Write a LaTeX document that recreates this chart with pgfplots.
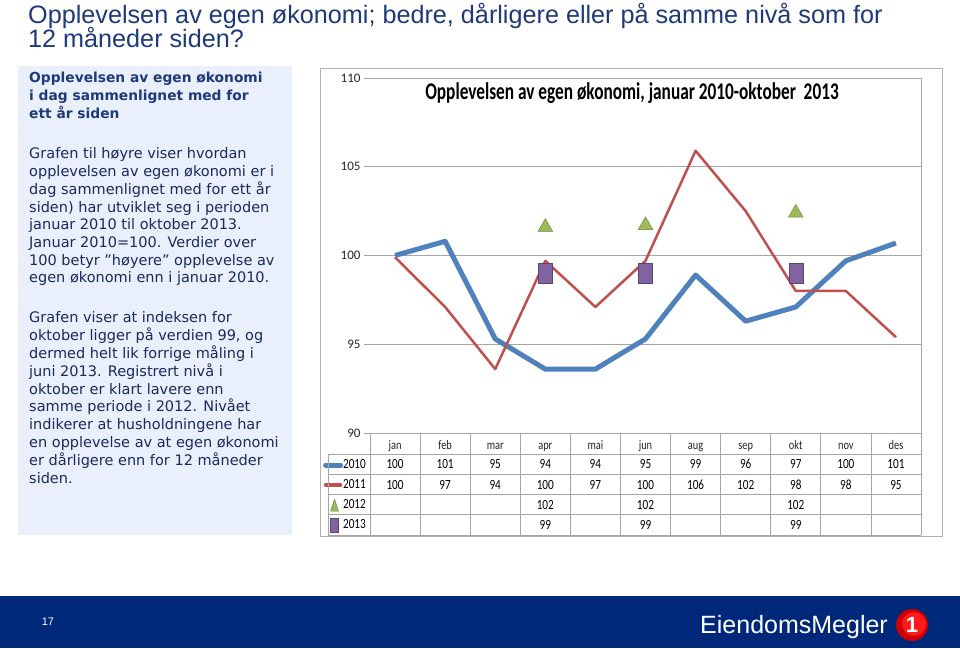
\documentclass[border=0pt]{standalone}
\usepackage{fontspec}
\setmainfont{DejaVu Sans}
\newfontfamily\carlito{Carlito}
\newfontfamily\libsans{Liberation Sans}
\usepackage{pgfplots}
\pgfplotsset{compat=1.18}
\definecolor{navy}{HTML}{1F3A78}
\definecolor{textblue}{HTML}{1B2A5C}
\definecolor{boxbg}{HTML}{E9EFFB}
\definecolor{footbg}{HTML}{00287A}
\definecolor{s2010}{HTML}{4F81BD}
\definecolor{s2011}{HTML}{C0504D}
\definecolor{s2012}{HTML}{9BBB59}
\definecolor{s2013}{HTML}{8064A2}
\definecolor{gridgray}{HTML}{A6A6A6}
\newcommand\cn[1]{\scalebox{0.8}[1]{#1}}
\begin{document}
\begin{tikzpicture}[x=1pt,y=1pt]
\fill[white] (0,0) rectangle (960,648);
\path[use as bounding box] (0,0) rectangle (960,648);

% slide title
\node[anchor=base west, inner sep=0, text=navy, font=\libsans\fontsize{25.2}{25}\selectfont] at (28,624)
  {Opplevelsen av egen økonomi; bedre, dårligere eller på samme nivå som for};
\node[anchor=base west, inner sep=0, text=navy, font=\libsans\fontsize{25.2}{25}\selectfont] at (28,600)
  {12 måneder siden?};

% left text box
\fill[boxbg] (18,113) rectangle (292,582);
\foreach \t [count=\i] in {Opplevelsen av egen økonomi, i dag sammenlignet med for, ett år siden}
  \node[anchor=base west, inner sep=0, text=navy, font=\bfseries\fontsize{13.8}{13}\selectfont] at (29,565-18*\i+18) {\t};
\foreach \t [count=\i] in {Grafen til høyre viser hvordan, opplevelsen av egen økonomi er i,
  dag sammenlignet med for ett år, siden) har utviklet seg i perioden, januar 2010 til oktober 2013.,
  Januar 2010=100. Verdier over, 100 betyr ”høyere” opplevelse av, egen økonomi enn i januar 2010.}
  \node[anchor=base west, inner sep=0, text=textblue, font=\fontsize{14.5}{13}\selectfont] at (29,489-17.7*\i+17.7) {\t};
\foreach \t [count=\i] in {Grafen viser at indeksen for, {oktober ligger på verdien 99, og},
  dermed helt lik forrige måling i, juni 2013. Registrert nivå i, oktober er klart lavere enn,
  samme periode i 2012. Nivået, indikerer at husholdningene har, en opplevelse av at egen økonomi,
  er dårligere enn for 12 måneder, siden.}
  \node[anchor=base west, inner sep=0, text=textblue, font=\fontsize{14.5}{13}\selectfont] at (29,325-17.8*\i+17.8) {\t};

% chart frame
\draw[gray!60, line width=0.8pt] (320,112) rectangle (942,580);
\node[text=black, font=\carlito\bfseries\fontsize{24}{24}\selectfont, inner sep=0] at (632,555)
  {\scalebox{0.72}[1]{Opplevelsen av egen økonomi, januar 2010-oktober\ \ 2013}};

\begin{axis}[
  at={(370pt,215pt)}, anchor=south west,
  scale only axis, width=551pt, height=355pt,
  xmin=-0.5, xmax=10.5, ymin=90, ymax=110,
  ytick={90,95,100,105,110},
  xtick={0,...,10},
  xticklabels={\cn{jan},\cn{feb},\cn{mar},\cn{apr},\cn{mai},\cn{jun},\cn{aug},\cn{sep},\cn{okt},\cn{nov},\cn{des}},
  axis line style={draw=none},
  ymajorgrids, grid style={gridgray, line width=0.8pt},
  ytick pos=left, tick align=outside, major tick length=6pt,
  ytick style={gridgray, line width=0.8pt},
  xtick style={draw=none},
  /pgf/number format/assume math mode=true,
  ticklabel style={font=\carlito\fontsize{13}{13}\selectfont, text=black!85},
  xticklabel style={anchor=base, yshift=-10pt},
  clip=false,
  legend style={at={(rel axis cs:0,0)}, anchor=north east, xshift=-4pt, yshift=-25pt,
    draw=none, fill=none, inner sep=0pt, row sep=6pt,
    font=\carlito\fontsize{14}{14}\selectfont,
    nodes={inner sep=0pt, text height=10pt, text depth=4pt}},
  legend cell align=left,
]
\addplot[s2010, line width=5pt, line join=round,
  legend image code/.code={\draw[s2010, line width=5pt, line cap=round] (0pt,0pt) -- (15pt,0pt);}]
  coordinates {(0,100.0) (1,100.8) (2,95.3) (3,93.6) (4,93.6) (5,95.3) (6,98.9) (7,96.3) (8,97.1) (9,99.7) (10,100.7)};
\addlegendentry{\cn{2010}}
\addplot[s2011, line width=2.5pt, line join=round,
  legend image code/.code={\draw[s2011, line width=3.5pt, line cap=round] (0pt,0pt) -- (15pt,0pt);}]
  coordinates {(0,99.9) (1,97.1) (2,93.6) (3,99.7) (4,97.1) (5,99.7) (6,105.9) (7,102.5) (8,98.0) (9,98.0) (10,95.4)};
\addlegendentry{\cn{2011}}
\addplot[only marks, mark=triangle*, mark size=8.5pt, mark options={fill=s2012, draw=s2012!70!black},
  legend image code/.code={\draw[fill=s2012, draw=s2012!70!black] (5pt,-6pt) -- (13pt,-6pt) -- (9pt,6pt) -- cycle;}]
  coordinates {(3,101.6) (5,101.7) (8,102.4)};
\addlegendentry{\cn{2012}}
\addplot[only marks, mark=square*, mark size=7pt, mark options={yscale=1.4, fill=s2013, draw=s2013!70!black},
  legend image code/.code={\draw[fill=s2013, draw=s2013!70!black] (5pt,-7pt) rectangle (13pt,7pt);}]
  coordinates {(3,99.0) (5,99.0) (8,99.0)};
\addlegendentry{\cn{2013}}
\end{axis}

% data table grid
\foreach \yy in {194,174,154,134,113}
  \draw[gridgray, line width=0.8pt] (328,\yy) -- (921,\yy);
\draw[gridgray, line width=0.8pt] (328,194) -- (328,113);
\foreach \k in {0,...,10}
  \draw[gridgray, line width=0.8pt] ({370+50.09*\k},215) -- ({370+50.09*\k},113);
\draw[gridgray, line width=0.8pt] (921,570) -- (921,113);
% data table values
\foreach \v [count=\i from 0] in {100,101,95,94,94,95,99,96,97,100,101}
  \node[anchor=base, inner sep=0, font=\carlito\fontsize{14}{14}\selectfont] at ({395.05+50.09*\i},179) {\cn{\v}};
\foreach \v [count=\i from 0] in {100,97,94,100,97,100,106,102,98,98,95}
  \node[anchor=base, inner sep=0, font=\carlito\fontsize{14}{14}\selectfont] at ({395.05+50.09*\i},159) {\cn{\v}};
\foreach \i in {3,5,8}{
  \node[anchor=base, inner sep=0, font=\carlito\fontsize{14}{14}\selectfont] at ({395.05+50.09*\i},139) {\cn{102}};
  \node[anchor=base, inner sep=0, font=\carlito\fontsize{14}{14}\selectfont] at ({395.05+50.09*\i},119) {\cn{99}};
}

% footer
\fill[footbg] (0,0) rectangle (960,52);
\node[text=white, font=\libsans\fontsize{11}{11}\selectfont] at (48,26) {17};
\node[text=white, font=\libsans\fontsize{25}{25}\selectfont, anchor=east, inner sep=0] at (888,21) {EiendomsMegler};
\fill[red!80!black] (912,23) circle (16);
\fill[red!90!white] (914,24) circle (12);
\node[text=white, font=\libsans\bfseries\fontsize{22}{22}\selectfont] at (912,23) {1};
\end{tikzpicture}
\end{document}
